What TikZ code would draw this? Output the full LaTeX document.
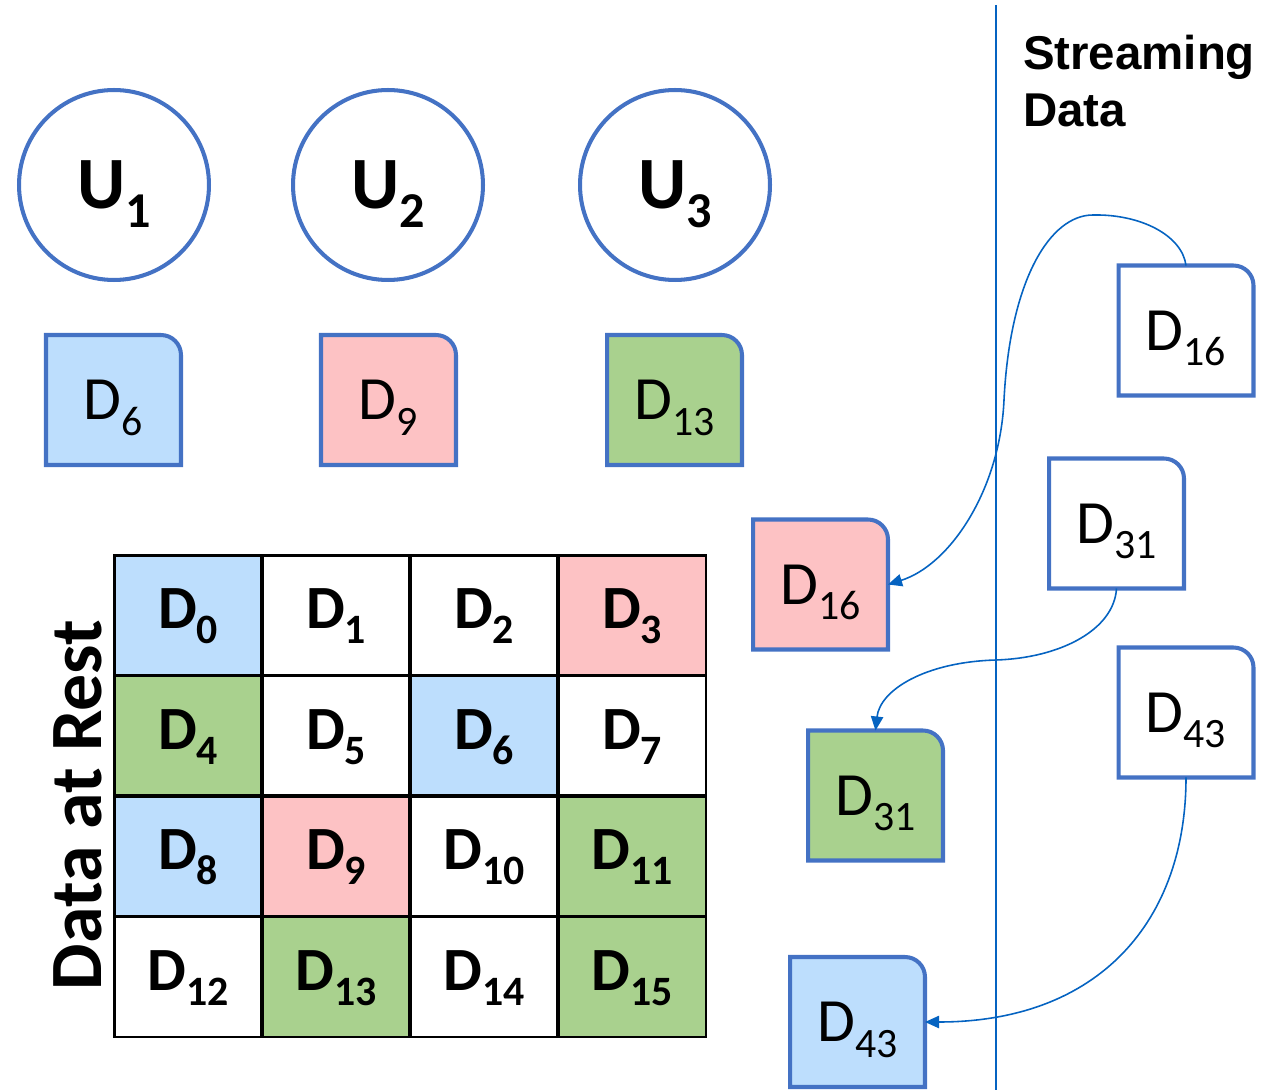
\documentclass[tikz,border=0pt]{standalone}
\usepackage{fontspec}
\setmainfont{Carlito}
\newfontfamily\arialfont{Liberation Sans}
\usepackage{graphicx}
\usetikzlibrary{arrows.meta,backgrounds}
\definecolor{docblue}{HTML}{4472C4}
\definecolor{flowblue}{HTML}{0563C1}
\definecolor{cellblue}{RGB}{189,222,253}
\definecolor{cellpink}{RGB}{253,194,196}
\definecolor{cellgreen}{HTML}{A9D18E}
\newcommand{\lowidx}[1]{\raisebox{-0.25em}{\scalebox{0.68}{#1}}}

\begin{document}
\begin{tikzpicture}[x=0.02cm, y=0.02cm, every node/.style={inner sep=0pt, outer sep=0pt},
    user/.style={circle, draw=docblue, line width=2.3pt, fill=white, minimum size=3.8cm, text depth=0pt, font=\fontsize{42}{50}\selectfont\bfseries},
    doc/.style={minimum width=2.7cm, minimum height=2.6cm, text depth=0pt, font=\fontsize{35}{42}\selectfont},
    cell/.style={draw, line width=1.7pt, minimum width=2.96cm, minimum height=2.41cm, text depth=0.75em, font=\fontsize{35}{42}\selectfont\bfseries},
    flow/.style={-{Triangle[length=8pt,width=7pt]}, line width=0.9pt, flowblue}]
    \useasboundingbox (0,0) rectangle (1281,1090);
    % users
    \node[user] (u1) at (114,905) {U\lowidx{1}};
    \node[user] (u2) at (388,905) {U\lowidx{2}};
    \node[user] (u3) at (675,905) {U\lowidx{3}};
    % data blocks
    \node[doc] (d6) at (113.5,690) {D\lowidx{6}};
    \node[doc] (d9) at (388.5,690) {D\lowidx{9}};
    \node[doc] (d13) at (674.5,690) {D\lowidx{13}};
    \node[doc] (s16) at (1186,759.5) {D\lowidx{16}};
    \node[doc] (s31) at (1116.5,566.5) {D\lowidx{31}};
    \node[doc] (s43) at (1186,377.5) {D\lowidx{43}};
    \node[doc] (r16) at (820.5,505.5) {D\lowidx{16}};
    \node[doc] (r31) at (875.5,294.5) {D\lowidx{31}};
    \node[doc] (r43) at (857.5,68) {D\lowidx{43}};
    \begin{scope}[on background layer]
        \foreach \n/\c in {d6/cellblue, d9/cellpink, d13/cellgreen, s16/white, s31/white, s43/white, r16/cellpink, r31/cellgreen, r43/cellblue}
            \draw[draw=docblue, line width=2.3pt, fill=\c] (\n.south west) -- (\n.north west) -- ([xshift=-0.4cm]\n.north east) arc[start angle=90, end angle=0, radius=0.4cm] -- (\n.south east) -- cycle;
    \end{scope}
    % data at rest
    \node[cell, fill=cellblue] (c0) at (188,474.75) {D\lowidx{0}};
    \node[cell, fill=white] (c1) at (336,474.75) {D\lowidx{1}};
    \node[cell, fill=white] (c2) at (484,474.75) {D\lowidx{2}};
    \node[cell, fill=cellpink] (c3) at (632,474.75) {D\lowidx{3}};
    \node[cell, fill=cellgreen] (c4) at (188,354.25) {D\lowidx{4}};
    \node[cell, fill=white] (c5) at (336,354.25) {D\lowidx{5}};
    \node[cell, fill=cellblue] (c6) at (484,354.25) {D\lowidx{6}};
    \node[cell, fill=white] (c7) at (632,354.25) {D\lowidx{7}};
    \node[cell, fill=cellblue] (c8) at (188,233.75) {D\lowidx{8}};
    \node[cell, fill=cellpink] (c9) at (336,233.75) {D\lowidx{9}};
    \node[cell, fill=white] (c10) at (484,233.75) {D\lowidx{10}};
    \node[cell, fill=cellgreen] (c11) at (632,233.75) {D\lowidx{11}};
    \node[cell, fill=white] (c12) at (188,113.25) {D\lowidx{12}};
    \node[cell, fill=cellgreen] (c13) at (336,113.25) {D\lowidx{13}};
    \node[cell, fill=white] (c14) at (484,113.25) {D\lowidx{14}};
    \node[cell, fill=cellgreen] (c15) at (632,113.25) {D\lowidx{15}};
    \node[rotate=90, anchor=south, font=\fontsize{42}{50}\selectfont\bfseries] (rest) at (102,285) {Data at Rest};
    % streaming side
    \node[anchor=north west, align=left, font=\arialfont\fontsize{27}{32.3}\selectfont\bfseries] (stream) at (1023,1055) {Streaming\\Data};
    \draw[flowblue, line width=1.2pt] (996,1085) -- (996,0);
    \draw[flow] (s16.north) .. controls (1182,855) and (1140,876) .. (1093,875) .. controls (1050,875) and (1010,810) .. (1004,690) .. controls (1000,600) and (950,525) .. (r16.east);
    \draw[flow] (s31.south) .. controls (1114,460) and (1060,432) .. (996,430) .. controls (925,428) and (880,400) .. (r31.north);
    \draw[flow] (s43.south) .. controls (1186,170) and (1100,68) .. (r43.east);
\end{tikzpicture}
\end{document}
